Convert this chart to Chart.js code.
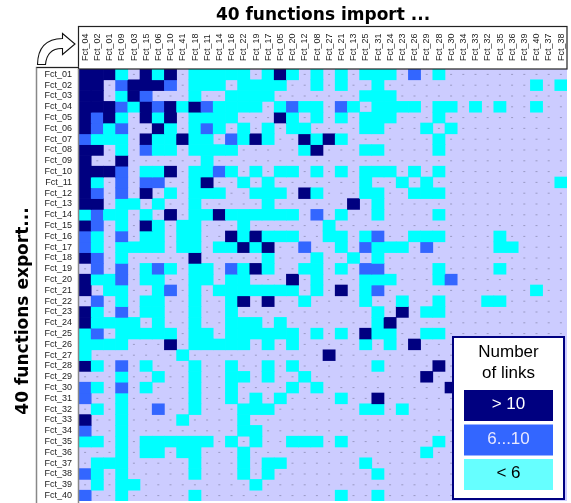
<!DOCTYPE html>
<html>
<head>
<meta charset="utf-8">
<script src="https://cdn.jsdelivr.net/npm/chart.js@4/dist/chart.umd.min.js"></script>
<style>
  html, body { margin: 0; padding: 0; background: #fff; }
</style>
</head>
<body>
<canvas id="linkChart" width="571" height="503"></canvas>
<script>
// importing functions (columns), in the reference's order
const colLabels = ['Fct_04', 'Fct_02', 'Fct_01', 'Fct_09', 'Fct_03', 'Fct_15', 'Fct_06', 'Fct_10', 'Fct_41', 'Fct_18',
  'Fct_11', 'Fct_14', 'Fct_16', 'Fct_22', 'Fct_19', 'Fct_17', 'Fct_05', 'Fct_20', 'Fct_12', 'Fct_08',
  'Fct_27', 'Fct_21', 'Fct_13', 'Fct_25', 'Fct_31', 'Fct_24', 'Fct_23', 'Fct_26', 'Fct_29', 'Fct_28',
  'Fct_30', 'Fct_34', 'Fct_33', 'Fct_32', 'Fct_35', 'Fct_36', 'Fct_39', 'Fct_40', 'Fct_37', 'Fct_38'];

// exporting functions (rows)
const rowLabels = [];
for (let i = 1; i <= 40; i++) rowLabels.push('Fct_' + (i < 10 ? '0' + i : i));

// link class per cell: 0 = none, 1 = < 6, 2 = 6...10, 3 = > 10
const links = [
  [3,3,3,1,0,3,1,3,0,1,1,1,1,1,0,1,3,1,0,1, 0,1,0,1,1,1,0,2,0,1,0,0,0,0,0,0,0,0,0,0],
  [3,3,0,2,3,3,3,2,0,1,1,1,0,1,1,1,1,0,0,1, 0,1,0,0,1,0,0,0,0,0,0,0,0,0,0,0,0,1,0,1],
  [3,3,0,1,3,2,0,0,0,1,0,0,1,1,1,1,0,0,0,0, 0,0,0,1,1,1,0,0,0,0,0,0,0,0,0,0,0,0,0,0],
  [3,3,3,2,1,3,2,3,1,3,2,1,1,1,1,0,1,2,1,1, 0,2,1,0,1,1,1,1,0,1,1,0,1,0,1,0,0,1,0,0],
  [3,2,3,1,0,3,1,3,0,1,1,1,1,0,0,0,3,1,0,1, 0,1,0,1,1,1,0,0,0,1,0,0,0,0,0,0,0,0,0,0],
  [3,2,1,2,0,0,3,1,0,1,2,1,0,1,0,1,0,1,1,0, 0,0,0,1,1,0,0,0,1,0,1,0,0,0,0,0,0,0,0,0],
  [2,1,1,1,0,3,1,1,3,1,1,0,2,1,3,1,0,0,3,1, 3,1,0,0,0,0,0,0,0,1,0,0,0,0,0,0,0,0,0,0],
  [3,3,0,1,0,2,1,1,0,1,1,1,1,0,0,0,0,0,1,3, 0,0,0,1,1,0,0,0,0,1,0,0,0,0,0,0,0,0,0,0],
  [3,0,0,3,0,0,0,0,0,0,1,0,0,0,0,0,0,0,0,0, 0,0,0,0,0,0,0,0,0,0,0,0,0,0,0,0,0,0,0,0],
  [3,3,3,2,0,1,1,3,0,1,1,2,1,0,1,0,1,1,0,1, 0,1,0,1,1,1,0,1,0,1,0,0,0,0,0,0,0,0,0,0],
  [3,1,0,2,0,2,2,0,0,1,3,0,0,1,0,1,0,0,0,0, 0,0,0,1,0,0,1,0,1,0,0,0,0,0,0,0,0,0,0,1],
  [3,2,0,2,0,3,0,1,0,1,1,1,0,0,1,1,1,0,3,1, 0,0,0,1,1,0,0,1,1,1,0,0,0,0,0,0,0,0,0,0],
  [3,3,0,1,1,0,1,0,0,1,0,0,0,0,0,1,0,0,0,0, 0,0,3,0,1,0,0,0,0,0,0,0,0,0,0,0,0,0,0,0],
  [1,2,1,1,0,1,0,3,0,1,1,3,1,1,1,1,1,1,0,2, 0,1,0,0,1,0,0,0,0,1,0,0,0,0,0,0,0,0,0,0],
  [3,2,0,1,0,3,1,0,1,1,0,0,0,1,0,0,0,0,0,0, 1,0,0,0,0,0,0,0,0,0,0,0,0,0,0,0,0,0,0,0],
  [2,1,0,2,0,1,1,0,1,1,0,0,3,1,3,1,1,1,0,0, 1,1,0,1,2,0,0,1,1,1,0,0,0,0,1,0,0,0,0,0],
  [2,1,0,1,1,1,1,0,1,1,0,1,1,3,1,3,0,0,2,0, 0,1,0,2,1,1,1,0,2,0,0,0,0,0,1,1,0,0,0,0],
  [3,2,0,1,0,0,0,0,0,3,0,0,0,0,0,1,0,0,0,1, 0,0,1,0,1,0,0,0,0,0,0,0,0,0,0,0,0,0,0,0],
  [0,2,0,2,0,1,2,1,0,1,1,0,2,1,3,1,0,0,1,1, 0,1,0,2,2,0,0,0,0,1,0,0,0,0,1,0,0,0,0,0],
  [3,1,1,2,0,1,1,0,0,1,1,0,1,1,0,0,0,3,0,1, 0,0,0,1,1,1,0,0,0,1,2,0,0,0,0,0,0,0,0,0],
  [3,0,1,1,0,0,1,2,0,1,0,1,1,1,1,1,1,1,0,1, 0,3,0,1,2,0,0,0,0,0,0,0,0,0,0,0,0,1,0,0],
  [0,2,0,1,0,1,1,0,0,1,0,0,1,3,0,3,0,0,1,0, 0,0,0,1,0,0,1,0,0,1,0,0,0,1,1,0,0,0,0,0],
  [3,1,0,2,0,1,1,0,0,1,0,0,1,0,0,0,0,0,0,0, 0,0,0,0,1,0,3,0,1,1,0,0,0,0,0,0,0,0,0,0],
  [3,1,1,1,1,0,1,0,0,1,0,0,1,1,1,0,1,0,0,0, 0,0,0,0,1,3,0,0,0,0,0,0,0,0,0,0,0,0,0,0],
  [1,2,0,1,1,1,1,1,0,1,1,0,1,1,1,1,1,1,0,1, 0,1,0,3,1,1,0,0,1,1,0,0,0,0,0,0,0,0,0,0],
  [1,1,1,1,0,0,0,3,0,1,1,1,1,1,0,1,0,1,0,0, 0,0,0,1,0,1,0,3,0,0,0,0,0,0,0,0,0,0,0,0],
  [1,0,0,0,0,0,0,0,1,0,0,0,0,0,0,0,0,0,0,0, 3,0,0,0,0,0,0,0,0,0,0,0,0,0,0,0,0,0,0,0],
  [3,1,0,2,0,1,0,0,0,1,0,0,1,0,0,1,0,1,0,0, 0,0,0,0,1,0,0,0,0,3,0,0,0,0,0,0,0,0,0,0],
  [0,0,0,1,0,0,1,0,0,1,0,0,1,1,0,1,0,0,1,0, 0,0,0,0,0,0,0,0,3,0,0,0,0,0,0,0,0,0,0,0],
  [2,1,0,2,0,1,0,0,0,1,0,0,1,0,0,0,0,1,0,1, 0,0,0,0,0,0,0,0,0,0,3,0,0,0,0,0,0,0,0,0],
  [2,0,0,1,0,0,0,0,0,1,0,0,1,0,1,0,1,0,0,0, 0,1,0,0,3,0,0,0,0,0,0,0,0,0,0,0,0,0,0,0],
  [0,1,0,1,0,0,2,0,0,1,0,0,0,1,1,1,0,0,0,0, 0,0,0,1,1,0,1,0,0,0,0,0,0,0,0,0,0,0,0,0],
  [3,0,0,1,0,0,0,0,1,0,0,0,0,1,0,0,0,0,0,0, 0,0,0,0,0,0,0,0,0,0,0,0,0,0,0,0,0,0,0,0],
  [2,0,0,1,0,0,0,0,0,0,0,0,0,1,1,0,0,0,0,0, 0,0,0,0,0,0,0,0,0,0,0,0,0,0,0,0,0,0,0,0],
  [1,1,0,1,0,1,1,1,1,1,1,0,1,0,1,0,0,1,1,1, 0,1,0,0,0,0,0,0,0,1,0,0,0,0,0,0,0,0,0,0],
  [0,0,0,1,0,1,1,0,1,1,0,0,0,1,0,0,0,0,0,0, 0,0,0,0,0,0,0,0,1,0,0,0,0,0,0,0,0,0,0,0],
  [0,1,1,1,0,0,0,0,0,1,0,0,0,1,0,1,1,0,0,0, 0,0,0,1,0,0,0,0,0,0,0,0,0,0,0,0,0,0,0,0],
  [2,1,0,1,0,0,0,0,0,1,0,0,0,1,0,1,0,0,0,0, 0,0,0,0,1,0,0,0,0,0,0,0,0,0,0,0,0,0,0,0],
  [0,1,0,1,1,0,0,0,0,0,0,0,0,0,1,0,0,0,0,0, 0,0,0,0,0,0,0,0,0,0,0,0,0,0,0,0,0,0,0,0],
  [2,0,0,1,0,0,0,0,0,1,0,0,0,0,0,0,0,0,0,0, 0,1,0,0,1,0,0,0,0,0,0,0,0,0,0,0,0,0,0,0]
];

const levelColors = ['#ccccff', '#00ffff', '#3366ff', '#000080'];
const legendLabels = ['> 10', '6...10', '< 6'];

// one floating-bar dataset per exporting function, spanning [row, row + 1]
const cellSets = links.map(function (row, r) {
  return {
    type: 'bar',
    label: rowLabels[r],
    data: row.map(v => v > 0 ? [r, r + 1] : null),
    backgroundColor: row.map(v => levelColors[v]),
    borderWidth: 0,
    barPercentage: 1,
    categoryPercentage: 1,
    grouped: false,
    order: 0
  };
});

// the small grey marks in every cell
const dotPoints = [];
rowLabels.forEach(function (rl, r) {
  colLabels.forEach(function (c) { dotPoints.push({ x: c, y: r + 0.5 }); });
});

function noPadding(s) {
  s.paddingTop = 0; s.paddingBottom = 0; s.paddingLeft = 0; s.paddingRight = 0;
}

const framePlugin = {
  id: 'frame',
  beforeDatasetsDraw(chart) {
    const { ctx, chartArea: a } = chart;
    ctx.save();
    ctx.fillStyle = '#ccccff';
    ctx.fillRect(a.left, a.top, a.right - a.left, a.bottom - a.top);
    ctx.restore();
  },
  afterDraw(chart) {
    const { ctx, chartArea: a } = chart;
    ctx.save();

    // header and row-label boxes
    ctx.strokeStyle = '#222';
    ctx.lineWidth = 1.2;
    ctx.strokeRect(a.left - 0.5, 26.5, a.right - a.left + 0.5, a.top - 26.5);
    ctx.strokeStyle = '#888';
    ctx.lineWidth = 1.5;
    ctx.beginPath();
    ctx.moveTo(36.5, 503); ctx.lineTo(36.5, 67.5); ctx.lineTo(a.left, 67.5);
    ctx.moveTo(a.left - 0.5, a.top); ctx.lineTo(a.left - 0.5, 503);
    ctx.stroke();
    ctx.strokeStyle = '#222';
    ctx.lineWidth = 1;
    ctx.beginPath();
    ctx.moveTo(36.5, 67.5); ctx.lineTo(a.left, 67.5);
    ctx.stroke();

    // curved arrow in the corner
    ctx.beginPath();
    ctx.moveTo(37.5, 64.5);
    ctx.quadraticCurveTo(38, 39, 62.5, 38.5);
    ctx.lineTo(62.5, 33.5);
    ctx.lineTo(75, 44);
    ctx.lineTo(62.5, 54.5);
    ctx.lineTo(62.5, 48.5);
    ctx.quadraticCurveTo(47, 48, 45.5, 64.5);
    ctx.closePath();
    ctx.fillStyle = '#fff';
    ctx.fill();
    ctx.strokeStyle = '#111';
    ctx.lineWidth = 1.1;
    ctx.stroke();

    // titles
    ctx.fillStyle = '#000';
    ctx.font = 'bold 17px "DejaVu Sans"';
    ctx.textAlign = 'center';
    ctx.textBaseline = 'alphabetic';
    ctx.fillText('40 functions import ...', (a.left + a.right) / 2, 20);
    ctx.translate(28, 311);
    ctx.rotate(-Math.PI / 2);
    ctx.fillText('40 functions export...', 0, 0);
    ctx.setTransform(1, 0, 0, 1, 0, 0);

    // legend box
    const lx = 452, ly = 336, lw = 113, lh = 164;
    ctx.fillStyle = '#fff';
    ctx.fillRect(lx, ly, lw, lh);
    ctx.strokeStyle = '#000080';
    ctx.lineWidth = 2;
    ctx.strokeRect(lx + 1, ly + 1, lw - 2, lh - 2);
    ctx.fillStyle = '#000';
    ctx.font = '17px "Liberation Sans"';
    ctx.textBaseline = 'middle';
    ctx.fillText('Number', lx + lw / 2, 352);
    ctx.fillText('of links', lx + lw / 2, 373);
    const swatch = ['#000080', '#3366ff', '#66ffff'];
    const swText = ['#fff', '#e8e8ff', '#000'];
    legendLabels.forEach(function (t, i) {
      const y = 390 + i * 34.5;
      ctx.fillStyle = swatch[i];
      ctx.fillRect(464, y, 89, 31);
      ctx.fillStyle = swText[i];
      ctx.fillText(t, 508.5, y + 14.5);
    });
    ctx.restore();
  }
};

new Chart(document.getElementById('linkChart'), {
  type: 'bar',
  data: {
    labels: colLabels,
    datasets: cellSets.concat([{
      type: 'scatter',
      label: 'marks',
      data: dotPoints,
      pointStyle: 'line',
      pointRadius: 1,
      pointHoverRadius: 1,
      borderColor: '#9a9ac4',
      borderWidth: 1,
      order: 1
    }])
  },
  options: {
    responsive: false,
    animation: false,
    events: [],
    layout: { padding: { left: 0, right: 4, top: 0, bottom: 0 } },
    plugins: { legend: { display: false }, tooltip: { enabled: false } },
    scales: {
      x: {
        type: 'category',
        labels: colLabels,
        position: 'top',
        offset: true,
        grid: { display: false, drawTicks: false },
        border: { display: false },
        ticks: {
          autoSkip: false, minRotation: 90, maxRotation: 90, padding: 8, labelOffset: 11,
          color: '#222', font: { family: 'Liberation Sans', size: 9 }
        },
        afterFit: function (s) { s.height = 69; noPadding(s); }
      },
      y: { type: 'linear', min: 0, max: 40, reverse: true, display: false },
      rows: {
        type: 'category',
        labels: rowLabels,
        position: 'left',
        offset: true,
        grid: { display: false, drawTicks: false },
        border: { display: false },
        ticks: {
          autoSkip: false, padding: 7,
          color: '#222', font: { family: 'Liberation Sans', size: 9 }
        },
        afterFit: function (s) { s.width = 79; noPadding(s); }
      }
    }
  },
  plugins: [framePlugin]
});
</script>
</body>
</html>
